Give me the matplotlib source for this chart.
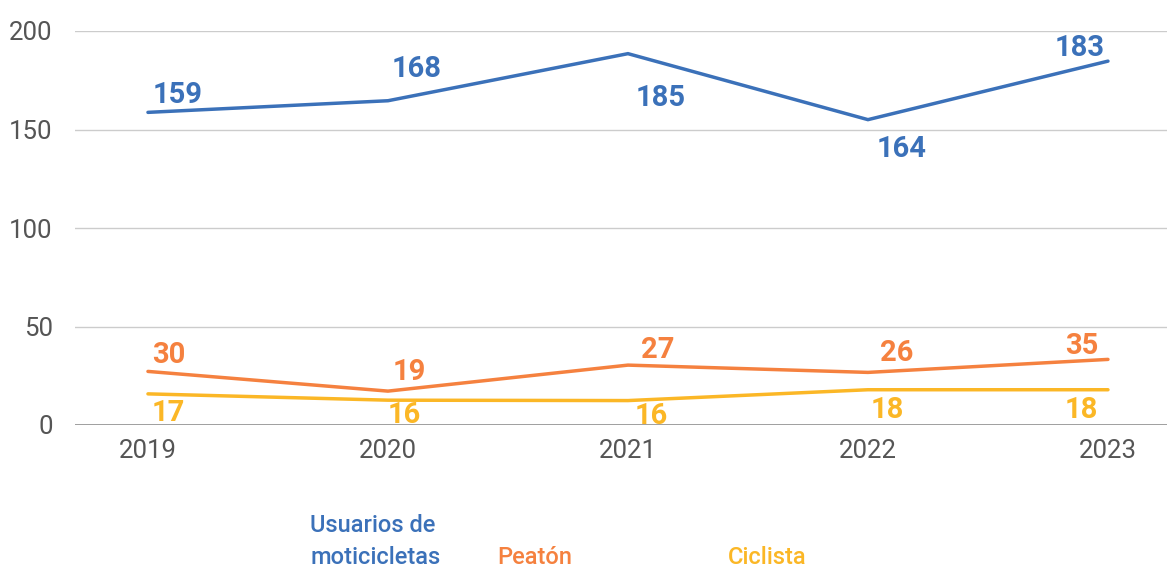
import matplotlib.pyplot as plt

plt.rcParams['font.family'] = ['Roboto', 'DejaVu Sans']

years = ['2019', '2020', '2021', '2022', '2023']
series_names = ['Usuarios de\nmoticicletas', 'Peatón', 'Ciclista']

# plotted line values (as drawn)
moto = [158.7, 164.6, 188.5, 155.0, 184.7]
peaton = [27.2, 17.2, 30.4, 26.7, 33.3]
ciclista = [15.8, 12.6, 12.4, 17.9, 17.9]

# data labels as shown on the chart
moto_lbl = [159, 168, 185, 164, 183]
peaton_lbl = [30, 19, 27, 26, 35]
ciclista_lbl = [17, 16, 16, 18, 18]

colors = ['#3b71b9', '#f5813f', '#fbb726']

# label offsets in pixels (dx, dy) per point
moto_off = [(30, 17), (29, 32), (33, -44), (34, -29), (-28, 13)]
peaton_off = [(21, 16), (21, 19), (30, 15), (29, 19), (-26, 13)]
ciclista_off = [(20, -19), (16, -15), (23, -15), (19, -20), (-27, -20)]

fig = plt.figure(figsize=(11.68, 5.72), dpi=100)
ax = fig.add_axes([75 / 1168, 1 - 425 / 572, 1092 / 1168, 394 / 572])

x = list(range(len(years)))
all_vals = [moto, peaton, ciclista]
all_lbls = [moto_lbl, peaton_lbl, ciclista_lbl]
all_offs = [moto_off, peaton_off, ciclista_off]

for vals, lbls, offs, c in zip(all_vals, all_lbls, all_offs, colors):
    ax.plot(x, vals, color=c, lw=2.5, solid_capstyle='round', solid_joinstyle='miter', zorder=3)
    for xi, v, l, (dx, dy) in zip(x, vals, lbls, offs):
        ax.annotate(str(l), (xi, v), xytext=(dx * 0.72, dy * 0.72), textcoords='offset points',
                    ha='center', va='center', color=c, fontsize=21, fontweight='bold', zorder=4)

ax.set_xlim(-0.304, 4.246)
ax.set_ylim(0, 200)
ax.set_yticks([0, 50, 100, 150, 200])
ax.set_xticks(x)
ax.set_xticklabels(years)
ax.grid(axis='y', color='#cccccc', lw=1)
ax.axhline(0, color='#999999', lw=1.3, zorder=2)
ax.set_axisbelow(True)
for s in ax.spines.values():
    s.set_visible(False)
ax.tick_params(length=0, labelsize=18.5, labelcolor='#555555')
ax.tick_params(axis='y', pad=16)
ax.tick_params(axis='x', pad=10)

legend_x = [310, 497, 728]
legend_y = [542, 558, 558]
for name, c, lx, ly in zip(series_names, colors, legend_x, legend_y):
    fig.text(lx / 1168, 1 - ly / 572, name, color=c, fontsize=17, fontweight='medium',
             ha='left', va='center', linespacing=1.5)

fig.savefig('out.png', dpi=100)
